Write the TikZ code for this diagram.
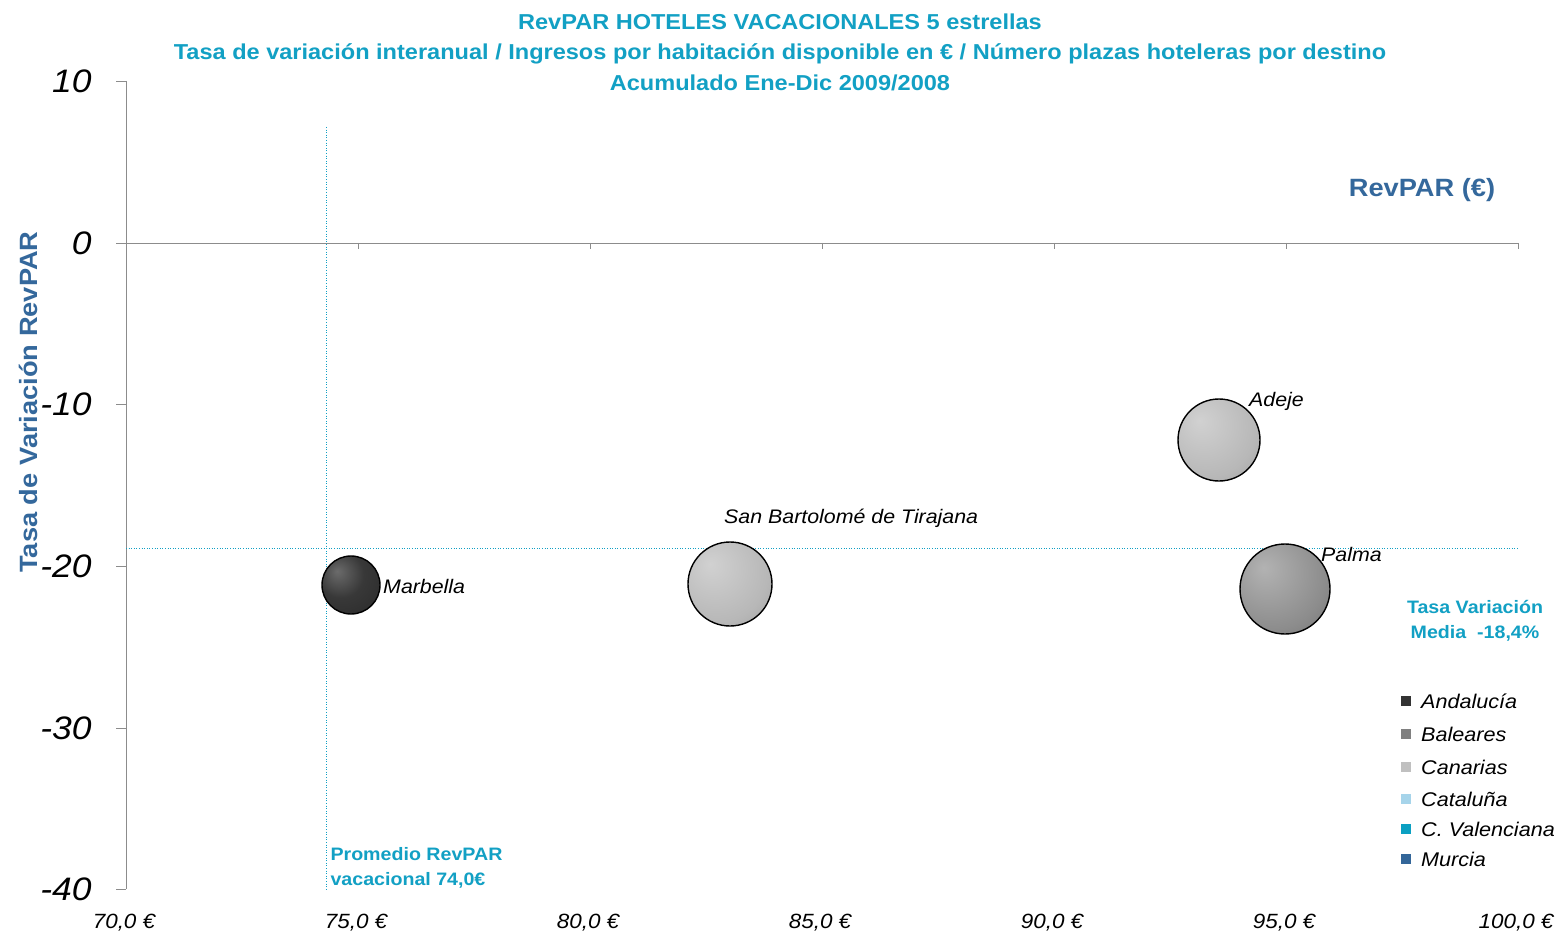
\documentclass[tikz,border=0pt]{standalone}
\usepackage{fontspec}
\setmainfont{Liberation Sans}[FakeStretch=1.09]
\definecolor{cyanT}{RGB}{18,160,196}
\definecolor{blueT}{RGB}{52,104,156}
\definecolor{axisC}{RGB}{140,140,140}
\definecolor{cAnd}{RGB}{51,51,51}
\definecolor{cBal}{RGB}{128,128,128}
\definecolor{cCan}{RGB}{192,192,192}
\definecolor{cCat}{RGB}{166,212,234}
\definecolor{cVal}{RGB}{11,160,194}
\definecolor{cMur}{RGB}{51,102,153}
\pgfdeclareradialshading{balldark}{\pgfpoint{-12bp}{12bp}}{color(0bp)=(black!58);color(20bp)=(black!78);color(50bp)=(black!85);color(80bp)=(black!88)}
\pgfdeclareradialshading{ballmid}{\pgfpoint{-12bp}{12bp}}{color(0bp)=(black!30);color(30bp)=(black!45);color(50bp)=(black!58);color(80bp)=(black!65)}
\pgfdeclareradialshading{balllight}{\pgfpoint{-12bp}{12bp}}{color(0bp)=(black!18);color(30bp)=(black!28);color(50bp)=(black!40);color(80bp)=(black!48)}
\tikzset{
  axisline/.style={draw=axisC, line width=0.9pt},
  avgline/.style={draw=cyanT, line width=0.9pt, dash pattern=on 1pt off 1.6pt},
  bubble/.style={circle, draw=black, line width=1.4pt, inner sep=0pt},
  ytick/.style={anchor=east, font=\fontsize{32.5}{34}\selectfont\itshape},
  xtick/.style={anchor=center, font=\fontsize{20.6}{24}\selectfont\itshape},
  blabel/.style={font=\fontsize{19.6}{24}\selectfont\itshape, inner sep=0pt},
  titletext/.style={font=\fontsize{21.6}{30.5}\selectfont\bfseries, text=cyanT, align=center},
  note/.style={font=\fontsize{18}{25}\selectfont\bfseries, text=cyanT},
  legsq/.style={fill=#1, minimum size=10pt, inner sep=0pt},
  legtext/.style={anchor=west, font=\fontsize{19.8}{24}\selectfont\itshape, inner sep=0pt}
}
\begin{document}
\begin{tikzpicture}[x=1pt,y=-1pt]
\useasboundingbox[fill=white] (0,0) rectangle (1556,936);
% title
\node[titletext] (title) at (780,52) {RevPAR HOTELES VACACIONALES 5 estrellas\\Tasa de variación interanual / Ingresos por habitación disponible en € / Número plazas hoteleras por destino\\Acumulado Ene-Dic 2009/2008};
% axes
\draw[axisline] (126,81) -- (126,889);
\draw[axisline] (116,243) -- (1518,243);
\foreach \yy/\lab in {81/10,243/0,404/-10,566/-20,728/-30,889/-40}{
  \draw[axisline] (116,\yy) -- (126,\yy);
  \node[ytick] at (95,\yy) {\lab};
}
\foreach \xx in {358,590,822,1054,1286,1518}{
  \draw[axisline] (\xx,243) -- (\xx,249);
}
\foreach \xx/\lab in {124/70,356/75,588/80,820/85,1052/90,1284/95,1516/100}{
  \node[xtick] at (\xx,923) {\lab,0 €};
}
% axis titles
\node[rotate=90, font=\fontsize{25}{28}\selectfont\bfseries, text=blueT] (ytitle) at (28,402) {Tasa de Variación RevPAR};
\node[font=\fontsize{25}{28}\selectfont\bfseries, text=blueT] (xtitle) at (1422,190) {RevPAR (€)};
% average lines
\coordinate (vtop) at (326,127);
\coordinate (vbot) at (326,889);
\coordinate (hleft) at (126,548);
\coordinate (hright) at (1518,548);
\draw[avgline] (vtop) -- (vbot);
\draw[avgline] (hleft) -- (hright);
% bubbles
\node[bubble, minimum size=58pt, shading=balldark] (marb) at (351,585) {};
\node[bubble, minimum size=84pt, shading=balllight] (sanb) at (730,584) {};
\node[bubble, minimum size=82pt, shading=balllight] (adeje) at (1219,440) {};
\node[bubble, minimum size=90pt, shading=ballmid] (palma) at (1285,589) {};
\node[blabel, anchor=west] (lmarb) at (383,586) {Marbella};
\node[blabel, anchor=west] (lsanb) at (724,518) {San Bartolomé de Tirajana};
\node[blabel, anchor=west] (ladeje) at (1249,401) {Adeje};
\node[blabel, anchor=west] (lpalma) at (1321,554) {Palma};
% notes
\node[note, align=center] (tasam) at (1475,621) {Tasa Variación\\Media\ \ -18,4\%};
\node[note, align=left, anchor=west] (prom) at (327,868) {Promedio RevPAR\\vacacional 74,0€};
% legend
\foreach \yy/\col/\lab [count=\i] in {701/cAnd/Andalucía,734/cBal/Baleares,767/cCan/Canarias,799/cCat/Cataluña,829/cVal/C. Valenciana,859/cMur/Murcia}{
  \node[legsq=\col] (sq\i) at (1406,\yy) {};
  \node[legtext] (lt\i) at (1421,\yy) {\lab};
}
\end{tikzpicture}
\end{document}
